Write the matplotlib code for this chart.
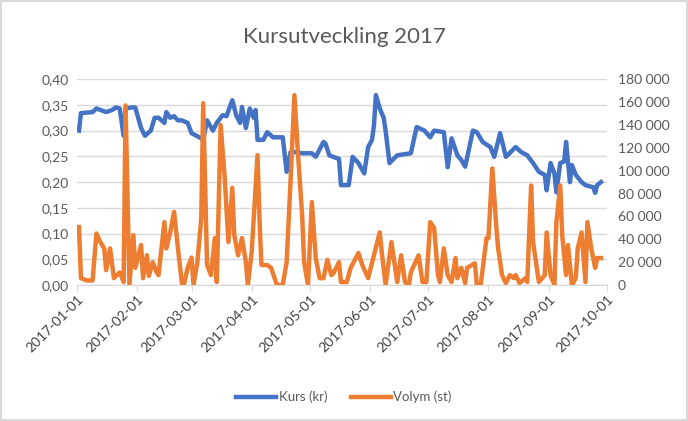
import matplotlib
matplotlib.use("Agg")
import matplotlib.pyplot as plt
import matplotlib.dates as mdates
import numpy as np
import pandas as pd

# Kurs (kr)
kurs_dates = [
    "2017-01-02", "2017-01-03", "2017-01-09", "2017-01-11", "2017-01-16", "2017-01-19",
    "2017-01-21", "2017-01-23", "2017-01-25", "2017-01-26", "2017-01-29", "2017-01-31",
    "2017-02-03", "2017-02-05", "2017-02-08", "2017-02-10", "2017-02-12", "2017-02-15",
    "2017-02-16", "2017-02-18", "2017-02-20", "2017-02-22", "2017-02-24", "2017-02-27",
    "2017-03-01", "2017-03-05", "2017-03-07", "2017-03-09", "2017-03-12", "2017-03-14",
    "2017-03-17", "2017-03-19", "2017-03-22", "2017-03-24", "2017-03-26", "2017-03-27",
    "2017-03-29", "2017-03-31", "2017-04-02", "2017-04-03", "2017-04-04", "2017-04-07",
    "2017-04-09", "2017-04-12", "2017-04-17", "2017-04-19", "2017-04-21", "2017-04-24",
    "2017-04-27", "2017-05-02", "2017-05-04", "2017-05-08", "2017-05-09", "2017-05-11",
    "2017-05-13", "2017-05-16", "2017-05-17", "2017-05-21", "2017-05-23", "2017-05-26",
    "2017-05-29", "2017-05-31", "2017-06-02", "2017-06-03", "2017-06-04", "2017-06-06",
    "2017-06-08", "2017-06-09", "2017-06-11", "2017-06-15", "2017-06-22", "2017-06-25",
    "2017-06-29", "2017-07-02", "2017-07-04", "2017-07-09", "2017-07-11", "2017-07-13",
    "2017-07-16", "2017-07-18", "2017-07-20", "2017-07-24", "2017-07-26", "2017-07-29",
    "2017-08-02", "2017-08-04", "2017-08-07", "2017-08-10", "2017-08-15", "2017-08-18",
    "2017-08-21", "2017-08-24", "2017-08-27", "2017-08-30", "2017-08-31", "2017-09-02",
    "2017-09-04", "2017-09-05", "2017-09-07", "2017-09-09", "2017-09-10", "2017-09-12",
    "2017-09-13", "2017-09-15", "2017-09-18", "2017-09-20", "2017-09-24", "2017-09-25",
    "2017-09-26", "2017-09-28",
]
kurs = [
    0.300, 0.334, 0.336, 0.343, 0.336, 0.340,
    0.345, 0.343, 0.290, 0.343, 0.345, 0.345,
    0.305, 0.290, 0.300, 0.325, 0.325, 0.315,
    0.336, 0.325, 0.328, 0.320, 0.320, 0.315,
    0.295, 0.287, 0.282, 0.320, 0.300, 0.315,
    0.330, 0.328, 0.359, 0.330, 0.315, 0.346,
    0.305, 0.343, 0.325, 0.340, 0.282, 0.282,
    0.297, 0.287, 0.287, 0.220, 0.258, 0.258,
    0.256, 0.256, 0.249, 0.278, 0.275, 0.252,
    0.249, 0.245, 0.194, 0.194, 0.249, 0.237,
    0.217, 0.268, 0.282, 0.310, 0.369, 0.343,
    0.325, 0.300, 0.237, 0.252, 0.256, 0.307,
    0.300, 0.287, 0.300, 0.297, 0.229, 0.285,
    0.252, 0.243, 0.230, 0.300, 0.297, 0.278,
    0.268, 0.249, 0.295, 0.249, 0.268, 0.258,
    0.252, 0.237, 0.220, 0.214, 0.184, 0.237,
    0.217, 0.180, 0.237, 0.240, 0.278, 0.200,
    0.233, 0.214, 0.200, 0.194, 0.190, 0.179,
    0.194, 0.200,
]

# Volym (st)
volym_dates = [
    "2017-01-02", "2017-01-03", "2017-01-06", "2017-01-09", "2017-01-11", "2017-01-13",
    "2017-01-15", "2017-01-16", "2017-01-18", "2017-01-20", "2017-01-21", "2017-01-23",
    "2017-01-25", "2017-01-26", "2017-01-28", "2017-01-30", "2017-01-31", "2017-02-03",
    "2017-02-04", "2017-02-06", "2017-02-07", "2017-02-09", "2017-02-11", "2017-02-12",
    "2017-02-15", "2017-02-16", "2017-02-18", "2017-02-20", "2017-02-22", "2017-02-24",
    "2017-02-25", "2017-02-27", "2017-03-01", "2017-03-02", "2017-03-04", "2017-03-06",
    "2017-03-07", "2017-03-09", "2017-03-11", "2017-03-13", "2017-03-14", "2017-03-16",
    "2017-03-18", "2017-03-20", "2017-03-22", "2017-03-23", "2017-03-25", "2017-03-27",
    "2017-03-29", "2017-03-30", "2017-04-01", "2017-04-04", "2017-04-05", "2017-04-06",
    "2017-04-09", "2017-04-11", "2017-04-14", "2017-04-17", "2017-04-19", "2017-04-21",
    "2017-04-23", "2017-04-25", "2017-04-27", "2017-04-28", "2017-04-30", "2017-05-02",
    "2017-05-04", "2017-05-06", "2017-05-08", "2017-05-10", "2017-05-12", "2017-05-13",
    "2017-05-16", "2017-05-17", "2017-05-20", "2017-05-22", "2017-05-26", "2017-05-28",
    "2017-05-31", "2017-06-03", "2017-06-06", "2017-06-07", "2017-06-09", "2017-06-12",
    "2017-06-15", "2017-06-17", "2017-06-19", "2017-06-21", "2017-06-22", "2017-06-26",
    "2017-06-28", "2017-06-30", "2017-07-02", "2017-07-04", "2017-07-06", "2017-07-07",
    "2017-07-09", "2017-07-11", "2017-07-13", "2017-07-15", "2017-07-16", "2017-07-18",
    "2017-07-20", "2017-07-21", "2017-07-25", "2017-07-26", "2017-07-28", "2017-07-31",
    "2017-08-01", "2017-08-03", "2017-08-05", "2017-08-06", "2017-08-08", "2017-08-10",
    "2017-08-12", "2017-08-14", "2017-08-15", "2017-08-17", "2017-08-20", "2017-08-21",
    "2017-08-23", "2017-08-24", "2017-08-27", "2017-08-30", "2017-08-31", "2017-09-02",
    "2017-09-04", "2017-09-05", "2017-09-07", "2017-09-08", "2017-09-10", "2017-09-11",
    "2017-09-13", "2017-09-15", "2017-09-16", "2017-09-18", "2017-09-20", "2017-09-21",
    "2017-09-23", "2017-09-25", "2017-09-26", "2017-09-28",
]
volym = [
    50700, 6000, 4000, 4000, 45000, 37600,
    32000, 13000, 32000, 6000, 8000, 11000,
    2600, 157000, 0, 43700, 15000, 35000,
    6000, 26000, 8000, 20000, 11000, 8700,
    55000, 32000, 46000, 64000, 32000, 1700,
    0, 15000, 24000, 0, 20000, 58000,
    159000, 17500, 8700, 41000, 2600, 140000,
    96000, 37600, 85000, 43700, 26000, 41000,
    20000, 0, 29000, 113600, 58500, 17500,
    17500, 15000, 0, 0, 20000, 90000,
    166000, 111000, 61000, 20000, 0, 72500,
    23600, 6000, 6000, 22000, 8700, 10000,
    20000, 2600, 2600, 15000, 28000, 17500,
    6000, 26000, 46000, 29000, 0, 37600,
    2600, 26000, 2600, 0, 11000, 26000,
    2600, 2600, 55000, 50000, 8700, 2600,
    32000, 8700, 2600, 23600, 6000, 15000,
    1700, 15000, 19000, 0, 0, 41000,
    41000, 102000, 52000, 32000, 8700, 1700,
    8700, 6000, 8700, 1700, 6000, 2600,
    87000, 37600, 2600, 8700, 46000, 8700,
    0, 55000, 87000, 43700, 8700, 35000,
    0, 6000, 32000, 46000, 2600, 55000,
    32000, 15000, 23600, 23600,
]

kurs_x = pd.to_datetime(kurs_dates)
volym_x = pd.to_datetime(volym_dates)

plt.rcParams['font.family'] = ['Lato', 'DejaVu Sans']
text_color = '#595959'
grid_color = '#d9d9d9'

fig = plt.figure(figsize=(6.88, 4.21), dpi=100)
fig.patch.set_edgecolor('#d9d9d9')
fig.patch.set_linewidth(1.5)
ax = fig.add_axes([0.112, 0.323, 0.770, 0.489])
ax2 = ax.twinx()

l1, = ax.plot(kurs_x, kurs, color='#4472C4', lw=3.2, solid_joinstyle='round', label='Kurs (kr)')
l2, = ax2.plot(volym_x, volym, color='#ED7D31', lw=3.2, solid_joinstyle='round', label='Volym (st)')

ax.set_ylim(0, 0.40)
ax.set_yticks(np.arange(0, 0.401, 0.05))
ax.set_yticklabels([f"{v:.2f}".replace('.', ',') for v in np.arange(0, 0.401, 0.05)])
ax2.set_ylim(0, 180000)
ax2.set_yticks(range(0, 180001, 20000))
ax2.set_yticklabels([f"{v:,}".replace(',', ' ') for v in range(0, 180001, 20000)])

ax.set_xlim(pd.Timestamp('2017-01-01'), pd.Timestamp('2017-10-01'))
ax.xaxis.set_major_locator(mdates.MonthLocator())
ax.xaxis.set_major_formatter(mdates.DateFormatter('%Y-%m-%d'))
for lbl in ax.get_xticklabels():
    lbl.set_rotation(45)
    lbl.set_ha('right')
    lbl.set_rotation_mode('anchor')
    lbl.set_color('#404040')

ax.grid(axis='y', color=grid_color, lw=1)
ax.set_axisbelow(True)
for a in (ax, ax2):
    for s in ('top', 'left', 'right'):
        a.spines[s].set_visible(False)
    a.spines['bottom'].set_color(grid_color)
    a.tick_params(colors=text_color, labelsize=10, length=0)
ax.tick_params(axis='x', length=4, color=grid_color, labelcolor='#404040', pad=2)
ax.tick_params(axis='y', pad=6)
ax2.tick_params(axis='y', pad=8)

fig.suptitle('Kursutveckling 2017', x=0.5, y=0.935, fontsize=16, color=text_color)
fig.legend(handles=[l1, l2], loc='center', bbox_to_anchor=(0.5, 0.057), ncol=2,
           frameon=False, fontsize=9.5, labelcolor=text_color, handlelength=3.0,
           handletextpad=0.2, columnspacing=1.8)

fig.savefig('out.png', dpi=100)
